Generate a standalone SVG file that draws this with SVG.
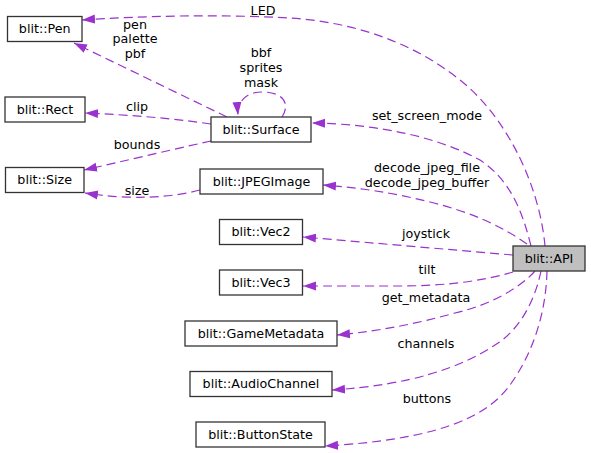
<svg xmlns="http://www.w3.org/2000/svg" width="591" height="453" viewBox="0 0 591 453">
<style>
text{font-family:"DejaVu Sans",sans-serif;font-size:12.7px;fill:#000;text-anchor:middle}
.n rect{fill:#fff;stroke:#333;stroke-width:1.3}
.n rect.api{fill:#bfbfbf}
.e path{fill:none;stroke:#9a32cd;stroke-width:1.2;stroke-dasharray:9,5;marker-end:url(#ah)}
</style>
<defs>
<marker id="ah" markerUnits="userSpaceOnUse" markerWidth="13" markerHeight="10" refX="13" refY="5" orient="auto">
<path d="M0,0.5 L13,5 L0,9.5 z" fill="#9a32cd"/>
</marker>
</defs>
<g class="e" id="edges">
<path d="M545,246 C540,190 510,120 460,80 C410,40 350,22 290,18 C220,14 140,16 82,20"/>
<path d="M531,246 C522,210 510,180 480,160 C440,138 380,124 312,123"/>
<path d="M527,244 C500,225 470,212 430,202 C390,192 360,188 323,185"/>
<path d="M513,255 L303,237"/>
<path d="M513,272 C480,282 440,286 400,286 C360,286 330,286 303,286"/>
<path d="M535,271 C520,288 490,305 455,313 C415,324 380,331 337,335"/>
<path d="M541,271 C535,300 520,330 495,345 C460,368 410,385 332,390"/>
<path d="M547,271 C546,310 535,350 510,385 C485,420 430,440 325,446"/>
<path d="M227,117 L74,43"/>
<path d="M211,124 C170,118 130,115 85,113"/>
<path d="M211,141 C170,150 120,162 84,170"/>
<path d="M200,190 C170,198 130,200 85,193"/>
<path d="M282,117 C290,105 285,92 262,92 C245,92 237,103 238,115"/>
</g>
<g id="edge-labels">
<text x="263" y="15">LED</text>
<text x="427" y="120">set_screen_mode</text>
<text x="427" y="172">decode_jpeg_file</text>
<text x="427" y="187">decode_jpeg_buffer</text>
<text x="426" y="238">joystick</text>
<text x="427" y="274">tilt</text>
<text x="426" y="302">get_metadata</text>
<text x="426" y="348">channels</text>
<text x="427" y="403">buttons</text>
<text x="135" y="29">pen</text>
<text x="135" y="43">palette</text>
<text x="135" y="58">pbf</text>
<text x="137" y="111">clip</text>
<text x="137" y="149">bounds</text>
<text x="137" y="195">size</text>
<text x="261" y="57">bbf</text>
<text x="261" y="72">sprites</text>
<text x="261" y="87">mask</text>
</g>
<g class="n" id="node-api"><rect class="api" x="513" y="246" width="72" height="25"/><text x="549" y="262.5">blit::API</text></g>
<g class="n" id="node-pen"><rect x="7.5" y="16.5" width="74.5" height="25"/><text x="44.7" y="33">blit::Pen</text></g>
<g class="n" id="node-rect"><rect x="5" y="97" width="80" height="25"/><text x="45" y="113.5">blit::Rect</text></g>
<g class="n" id="node-surface"><rect x="211" y="117" width="100" height="25"/><text x="261" y="133.5">blit::Surface</text></g>
<g class="n" id="node-size"><rect x="5.5" y="167.5" width="78.5" height="25"/><text x="44.7" y="184">blit::Size</text></g>
<g class="n" id="node-jpeg"><rect x="200" y="169" width="123" height="25"/><text x="261.5" y="185.5">blit::JPEGImage</text></g>
<g class="n" id="node-vec2"><rect x="219.5" y="219.5" width="83" height="25"/><text x="261" y="236">blit::Vec2</text></g>
<g class="n" id="node-vec3"><rect x="219.5" y="270" width="83" height="25"/><text x="261" y="286.5">blit::Vec3</text></g>
<g class="n" id="node-gamemeta"><rect x="185" y="321" width="152" height="25"/><text x="261" y="337.5">blit::GameMetadata</text></g>
<g class="n" id="node-audio"><rect x="190" y="371.5" width="142" height="25"/><text x="261" y="388">blit::AudioChannel</text></g>
<g class="n" id="node-button"><rect x="196" y="422" width="129" height="25"/><text x="260.5" y="438.5">blit::ButtonState</text></g>
</svg>
